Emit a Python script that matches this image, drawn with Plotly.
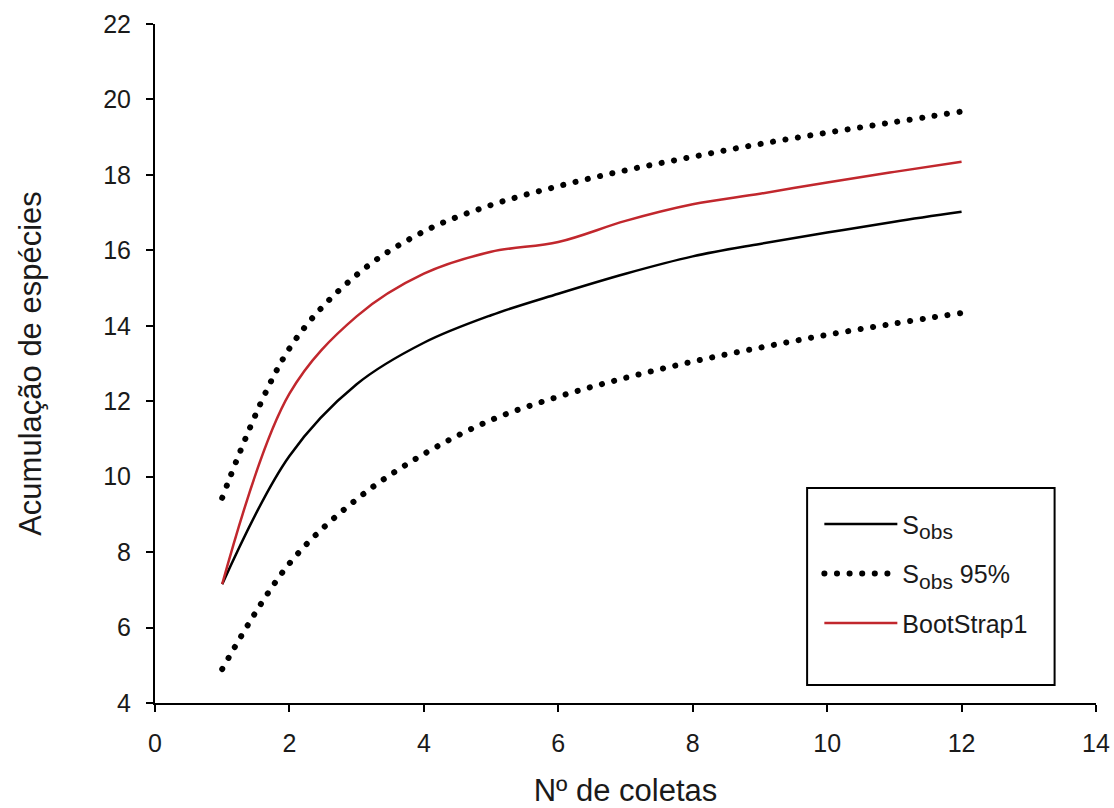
import plotly.graph_objects as go

coletas = [1, 2, 3, 4, 5, 6, 7, 8, 9, 10, 11, 12]
sobs = [7.15, 10.55, 12.45, 13.55, 14.28, 14.85, 15.38, 15.84, 16.17, 16.47, 16.76, 17.02]
sobs95_sup = [9.44, 13.4, 15.35, 16.5, 17.2, 17.7, 18.12, 18.48, 18.82, 19.12, 19.4, 19.68]
sobs95_inf = [4.9, 7.7, 9.4, 10.6, 11.5, 12.12, 12.62, 13.05, 13.42, 13.76, 14.06, 14.34]
bootstrap1 = [7.15, 12.2, 14.25, 15.38, 15.96, 16.22, 16.78, 17.22, 17.5, 17.8, 18.08, 18.35]

x_ticks = [0, 2, 4, 6, 8, 10, 12, 14]
y_ticks = [4, 6, 8, 10, 12, 14, 16, 18, 20, 22]

FONT = "Liberation Sans, Arial, sans-serif"
RED = "#c1272d"
TXT = "#1a1a1a"
SUB = "S<sub><span style='font-size:21px'>obs</span></sub>"

fig = go.Figure()
fig.add_trace(go.Scatter(x=coletas, y=sobs, mode="lines", name=SUB,
                         line=dict(color="black", width=2.5, shape="spline"), legendgroup="a"))
fig.add_trace(go.Scatter(x=coletas, y=sobs95_sup, mode="lines", name=SUB + " 95%",
                         line=dict(color="black", width=6, dash="6px,7px", shape="spline"), legendgroup="b"))
fig.add_trace(go.Scatter(x=coletas, y=sobs95_inf, mode="lines", name=SUB + " 95%",
                         line=dict(color="black", width=6, dash="6px,7px", shape="spline"),
                         legendgroup="b", showlegend=False))
fig.add_trace(go.Scatter(x=coletas, y=bootstrap1, mode="lines", name="BootStrap1",
                         line=dict(color=RED, width=2.5, shape="spline"), legendgroup="c"))

axis_common = dict(showline=True, linecolor="black", linewidth=2, ticks="outside",
                   ticklen=7, tickwidth=2, tickcolor="black", showgrid=False, zeroline=False,
                   automargin=False,
                   tickfont=dict(family=FONT, size=25, color=TXT),
                   title_font=dict(family=FONT, size=31, color=TXT))

fig.update_xaxes(range=[0, 14], tickvals=x_ticks, title_text="Nº de coletas",
                 title_standoff=40, ticklabelstandoff=10, **axis_common)
fig.update_yaxes(range=[4, 22], tickvals=y_ticks, title_text="Acumulação de espécies",
                 title_standoff=52, ticklabelstandoff=10, **axis_common)

# legend frame
fig.add_shape(type="rect", xref="paper", yref="paper", x0=0.693, x1=0.956, y0=0.0265, y1=0.3166,
              line=dict(color="black", width=2), fillcolor="white", layer="below")

fig.update_layout(
    width=1114, height=808,
    margin=dict(l=155, r=18, t=24, b=105),
    plot_bgcolor="white", paper_bgcolor="white",
    font=dict(family=FONT, color=TXT),
    legend=dict(x=0.706, y=0.297, xanchor="left", yanchor="top",
                bgcolor="rgba(0,0,0,0)", borderwidth=0,
                font=dict(family=FONT, size=25, color=TXT),
                tracegroupgap=14, itemwidth=73),
)

post = """
document.documentElement.style.overflow = 'hidden';
document.body.style.margin = '0';
document.body.style.overflow = 'hidden';
function fixDots(){
  document.querySelectorAll('path.js-line').forEach(function(p){
    var d = p.style.strokeDasharray;
    if (d && d !== 'none' && d !== '') {
      p.style.strokeLinecap = 'round';
      p.style.strokeDasharray = '0.1px,12.5px';
    }
  });
}
fixDots();
setTimeout(fixDots, 50);
"""
fig.write_html("out.html", post_script=post, config={"displayModeBar": False})
